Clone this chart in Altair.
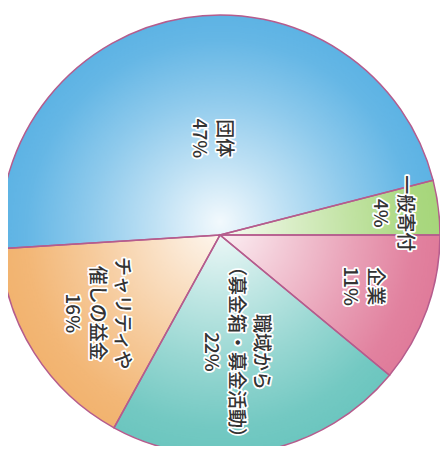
import altair as alt
import pandas as pd
import math

# ---- data ----
categories = ["一般寄付", "企業", "職域から\n（募金箱・募金活動）", "チャリティや\n催しの益金", "団体"]
shares = [4, 11, 22, 16, 47]
slice_colors = ["#a6d67a", "#e07b9a", "#6cc6bf", "#f2b36f", "#5db3e4"]

# ---- layout / style ----
CX, CY, R = 212, 227, 220
START_DEG = 75.6
START = math.radians(START_DEG)
LABEL_R = [174, 151, 118, 146, 97]
LABEL_DA = [0, 0, 3, 0, 4]  # small angular nudges (degrees)
LINE_H = 25
BORDER = "#b55c8d"
TEXT = "#333333"
FONT = "Noto Sans CJK JP"

df = pd.DataFrame({
    "cat": categories,
    "share": shares,
    "order": list(range(len(categories))),
    "label": [f"{c}\n{s}%" for c, s in zip(categories, shares)],
    "lr": LABEL_R,
    "da": LABEL_DA,
})

theta = alt.Theta("share:Q", stack=True, scale=alt.Scale(range=[START, START + 2 * math.pi]))
order = alt.Order("order:Q")
color = alt.Color("cat:N", scale=alt.Scale(domain=categories, range=slice_colors), legend=None)

base = alt.Chart(df)

slices = base.mark_arc(radius=R).encode(
    theta=theta, order=order, color=color,
    x=alt.value(CX), y=alt.value(CY),
)

glow = alt.Chart(pd.DataFrame({"a": [1]})).mark_arc(
    radius=R, theta=0, theta2=2 * math.pi,
    fill=alt.Gradient(
        gradient="radial",
        stops=[
            alt.GradientStop(color="rgba(255,255,255,0.92)", offset=0),
            alt.GradientStop(color="rgba(255,255,255,0.6)", offset=0.3),
            alt.GradientStop(color="rgba(255,255,255,0.3)", offset=0.6),
            alt.GradientStop(color="rgba(255,255,255,0.05)", offset=0.88),
            alt.GradientStop(color="rgba(255,255,255,0)", offset=1),
        ],
        x1=0.5, y1=0.47, r1=0, x2=0.5, y2=0.5, r2=0.5,
    ),
).encode(x=alt.value(CX), y=alt.value(CY))

borders = base.mark_arc(radius=R, fillOpacity=0, stroke=BORDER, strokeWidth=1.5).encode(
    theta=theta, order=order,
    x=alt.value(CX), y=alt.value(CY),
)

text_base = base.transform_window(
    cum="sum(share)", sort=[alt.SortField("order")], frame=[None, 0]
).transform_joinaggregate(
    total="sum(share)"
).transform_calculate(
    ang=f"{START_DEG} + (datum.cum - datum.share / 2) / datum.total * 360 + datum.da",
    nl="length(split(datum.label, '\\n'))",
).transform_calculate(
    px=f"{CX} + datum.lr * sin(datum.ang * PI / 180) + (datum.nl - 1) * {LINE_H} / 2",
    py=f"{CY} - datum.lr * cos(datum.ang * PI / 180)",
)

text_common = dict(angle=90, align="center", baseline="middle", lineBreak="\n",
                   font=FONT, fontSize=19, fontWeight=500, lineHeight=LINE_H)

enc = dict(
    x=alt.X("px:Q", scale=None, axis=None),
    y=alt.Y("py:Q", scale=None, axis=None),
    text="label:N",
)

halo = text_base.mark_text(stroke="white", strokeWidth=3.5, strokeJoin="round", fill="white", **text_common).encode(**enc)
labels = text_base.mark_text(fill=TEXT, **text_common).encode(**enc)

chart = alt.layer(slices, glow, borders, halo, labels).properties(
    width=432, height=438, padding=0, autosize="none", background="white"
).configure_view(strokeWidth=0)

chart.save("out.html", embed_options={"renderer": "svg", "actions": False})
